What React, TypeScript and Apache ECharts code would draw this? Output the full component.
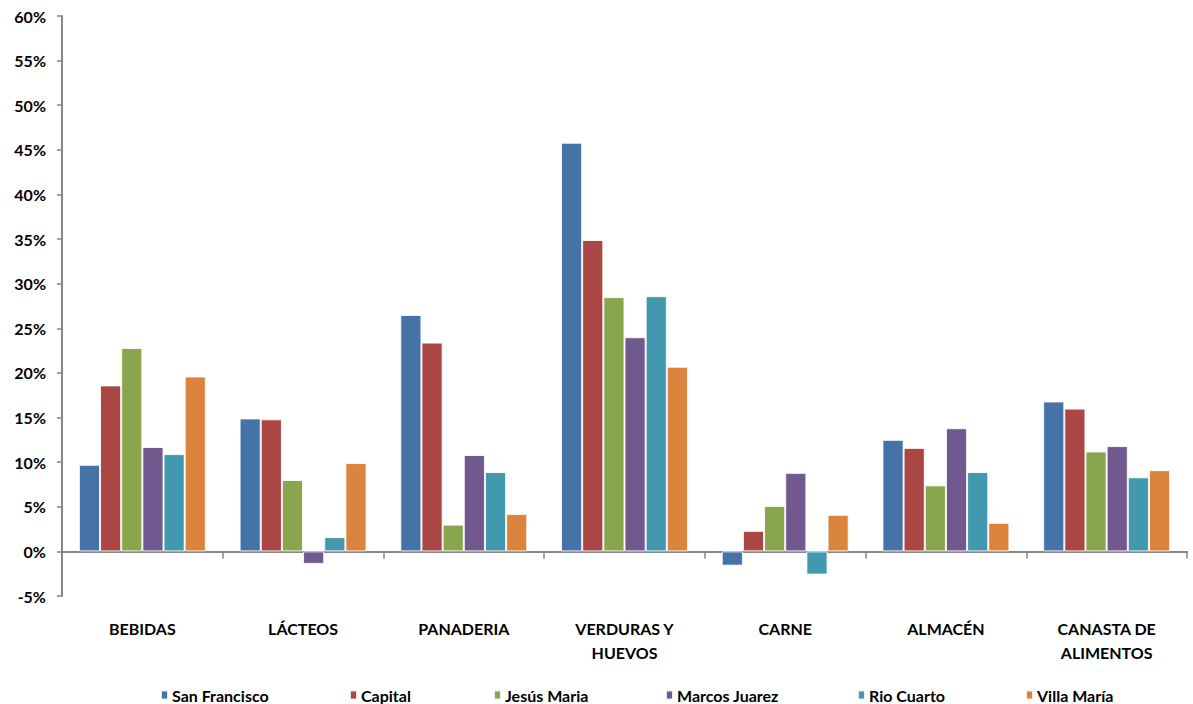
import React, { useEffect, useRef } from "react";
import * as echarts from "echarts";

const categories = [
  "BEBIDAS",
  "LÁCTEOS",
  "PANADERIA",
  "VERDURAS Y\nHUEVOS",
  "CARNE",
  "ALMACÉN",
  "CANASTA DE\nALIMENTOS",
];

const seriesNames = ["San Francisco", "Capital", "Jesús Maria", "Marcos Juarez", "Rio Cuarto", "Villa María"];

const sanFrancisco = [9.7, 14.9, 26.5, 45.8, -1.6, 12.5, 16.8];
const capital = [18.6, 14.8, 23.4, 34.9, 2.3, 11.6, 16.0];
const jesusMaria = [22.8, 8.0, 3.0, 28.5, 5.1, 7.4, 11.2];
const marcosJuarez = [11.7, -1.4, 10.8, 24.0, 8.8, 13.8, 11.8];
const rioCuarto = [10.9, 1.6, 8.9, 28.6, -2.6, 8.9, 8.3];
const villaMaria = [19.6, 9.9, 4.2, 20.7, 4.1, 3.2, 9.1];

const seriesValues = [sanFrancisco, capital, jesusMaria, marcosJuarez, rioCuarto, villaMaria];
const colors = ["#4572A7", "#AA4643", "#89A54E", "#71588F", "#4198AF", "#DB843D"];
const legendLefts = [160, 349, 493, 665, 857, 1025];

const FONT = "Lato, 'Liberation Sans', Arial, sans-serif";

export default function App() {
  const ref = useRef<HTMLDivElement>(null);
  useEffect(() => {
    if (!ref.current) return;
    const chart = echarts.init(ref.current, undefined, { renderer: "svg" });
    chart.setOption({
      animation: false,
      backgroundColor: "#ffffff",
      color: colors,
      textStyle: { fontFamily: FONT },
      grid: { left: 62, right: 6, top: 16, height: 580, containLabel: false },
      legend: seriesNames.map((name, i) => ({
        left: legendLefts[i],
        top: 687,
        padding: 0,
        itemWidth: 7,
        itemHeight: 9,
        icon: "rect",
        textStyle: { fontFamily: FONT, fontWeight: "bold", fontSize: 16, color: "#000", padding: [0, 0, 0, -1] },
        data: [name],
      })),
      xAxis: {
        type: "category",
        data: categories,
        axisLine: { onZero: true, lineStyle: { color: "#868686", width: 2 } },
        axisTick: { show: true, alignWithLabel: false, length: 7, lineStyle: { color: "#868686", width: 1.5 } },
        axisLabel: {
          margin: 20,
          interval: 0,
          color: "#000",
          fontFamily: FONT,
          fontWeight: "bold",
          fontSize: 16,
          lineHeight: 24,
        },
        splitLine: { show: false },
      },
      yAxis: {
        type: "value",
        min: -5,
        max: 60,
        interval: 5,
        axisLine: { show: true, lineStyle: { color: "#868686", width: 2 } },
        axisTick: { show: true, length: 5, lineStyle: { color: "#868686", width: 1.5 } },
        axisLabel: {
          formatter: "{value}%",
          margin: 16,
          color: "#000",
          fontFamily: FONT,
          fontWeight: "bold",
          fontSize: 16,
        },
        splitLine: { show: false },
      },
      series: seriesValues.map((vals, i) => ({
        name: seriesNames[i],
        type: "bar",
        data: vals,
        barGap: "0%",
        barCategoryGap: "21%",
        itemStyle: { color: colors[i], borderColor: "rgba(255,255,255,0.85)", borderWidth: 1 },
      })),
    });
    return () => chart.dispose();
  }, []);
  return (
    <div
      ref={ref}
      style={{ position: "absolute", left: 0, top: 0, width: 1193, height: 704 }}
    />
  );
}
